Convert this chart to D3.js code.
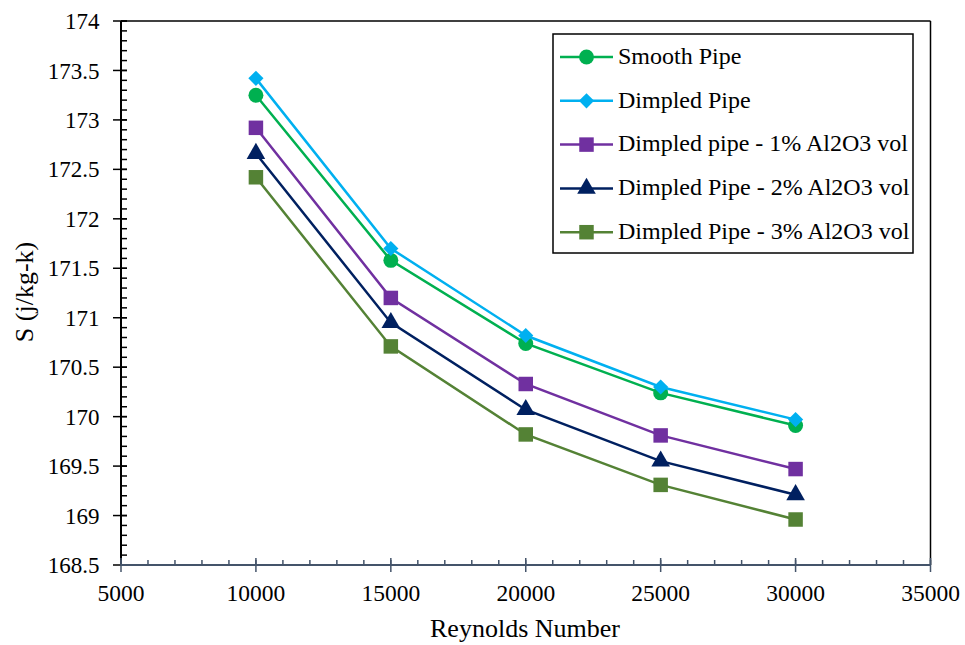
<!DOCTYPE html>
<html><head><meta charset="utf-8">
<script src="https://cdn.jsdelivr.net/npm/d3@7"></script>
<style>body{margin:0;background:#fff}svg{display:block}svg text{font-family:'Liberation Serif',Tinos,'Nimbus Roman',FreeSerif,serif !important}</style>
</head><body>
<svg id="c" width="965" height="645"></svg>
<script>
const reynolds = [10000, 15000, 20000, 25000, 30000];
const smoothPipe = [173.25, 171.58, 170.74, 170.24, 169.91];
const dimpledPipe = [173.42, 171.70, 170.82, 170.30, 169.97];
const dimpled1 = [172.92, 171.20, 170.33, 169.81, 169.47];
const dimpled2 = [172.66, 170.95, 170.07, 169.55, 169.21];
const dimpled3 = [172.42, 170.71, 169.82, 169.31, 168.96];
const seriesNames = ["Smooth Pipe", "Dimpled Pipe", "Dimpled pipe - 1% Al2O3 vol", "Dimpled Pipe - 2% Al2O3 vol", "Dimpled Pipe - 3% Al2O3 vol"];
const xTicks = [5000, 10000, 15000, 20000, 25000, 30000, 35000];
const yTicks = [168.5, 169, 169.5, 170, 170.5, 171, 171.5, 172, 172.5, 173, 173.5, 174];

const FONT = "'Liberation Serif', Tinos, 'Nimbus Roman', FreeSerif, serif";
const series = [
  {name: seriesNames[0], values: smoothPipe, color: "#00B050", sym: d3.symbolCircle, size: 175, rot: 0},
  {name: seriesNames[1], values: dimpledPipe, color: "#00B0F0", sym: d3.symbolSquare, size: 115, rot: 45},
  {name: seriesNames[2], values: dimpled1, color: "#7030A0", sym: d3.symbolSquare, size: 210, rot: 0},
  {name: seriesNames[3], values: dimpled2, color: "#002060", sym: d3.symbolTriangle, size: 150, rot: 0},
  {name: seriesNames[4], values: dimpled3, color: "#548235", sym: d3.symbolSquare, size: 210, rot: 0}
];

const svg = d3.select("#c");
const L = 121, R = 930.5, T = 21, B = 565;
const x = d3.scaleLinear().domain([5000, 35000]).range([L, R]);
const y = d3.scaleLinear().domain([168.5, 174]).range([B, T]);

svg.append("line").attr("x1", L).attr("x2", R).attr("y1", T).attr("y2", T).attr("stroke", "#000").attr("stroke-width", 1.5);
svg.append("line").attr("x1", R).attr("x2", R).attr("y1", T).attr("y2", B).attr("stroke", "#000").attr("stroke-width", 1.5);

// y axis
const yMinor = d3.range(168.5, 174.0001, 0.1);
const yg = svg.append("g");
yg.selectAll("line.mi").data(yMinor).join("line")
  .attr("x1", L).attr("x2", L + 6).attr("y1", d => y(d)).attr("y2", d => y(d))
  .attr("stroke", "#000").attr("stroke-width", 1.5);
yg.selectAll("line.ma").data(yTicks).join("line")
  .attr("x1", L - 8).attr("x2", L + 6).attr("y1", d => y(d)).attr("y2", d => y(d))
  .attr("stroke", "#000").attr("stroke-width", 1.5);
yg.append("line").attr("x1", L).attr("x2", L).attr("y1", T).attr("y2", B).attr("stroke", "#000").attr("stroke-width", 2);
yg.selectAll("text").data(yTicks).join("text")
  .attr("x", L - 21.5).attr("y", d => y(d)).attr("dy", "0.35em").attr("text-anchor", "end")
  .style("font-family", FONT, "important").attr("font-size", 23).text(d => d);

// x axis
const xMinor = d3.range(5000, 35001, 1000);
const xg = svg.append("g");
const axc = "#44546A";
xg.selectAll("line.mi").data(xMinor).join("line")
  .attr("x1", d => x(d)).attr("x2", d => x(d)).attr("y1", B).attr("y2", B - 5)
  .attr("stroke", axc).attr("stroke-width", 1.5);
xg.selectAll("line.ma").data(xTicks).join("line")
  .attr("x1", d => x(d)).attr("x2", d => x(d)).attr("y1", B - 7).attr("y2", B + 7)
  .attr("stroke", axc).attr("stroke-width", 1.5);
xg.append("line").attr("x1", L).attr("x2", R).attr("y1", B).attr("y2", B).attr("stroke", axc).attr("stroke-width", 2);
xg.selectAll("text").data(xTicks).join("text")
  .attr("x", d => x(d)).attr("y", B + 36).attr("text-anchor", "middle")
  .style("font-family", FONT, "important").attr("font-size", 23.5).text(d => d);

svg.append("text").attr("x", 525).attr("y", 637).attr("text-anchor", "middle")
  .style("font-family", FONT, "important").attr("font-size", 26).text("Reynolds Number");
svg.append("text").attr("transform", "translate(33,292) rotate(-90)").attr("text-anchor", "middle")
  .style("font-family", FONT, "important").attr("font-size", 26).text("S (j/kg-k)");

const line = d3.line().x(d => x(d[0])).y(d => y(d[1]));
series.forEach(s => {
  const pts = reynolds.map((r, i) => [r, s.values[i]]);
  svg.append("path").datum(pts).attr("d", line).attr("fill", "none").attr("stroke", s.color).attr("stroke-width", 2.5);
  svg.append("g").selectAll("path").data(pts).join("path")
    .attr("d", d3.symbol().type(s.sym).size(s.size))
    .attr("transform", d => `translate(${x(d[0])},${y(d[1])}) rotate(${s.rot})`)
    .attr("fill", s.color);
});

const lg = svg.append("g");
lg.append("rect").attr("x", 553).attr("y", 34).attr("width", 360).attr("height", 219).attr("fill", "#fff").attr("stroke", "#000").attr("stroke-width", 1.5);
series.forEach((s, i) => {
  const cy = 57 + i * 43.8;
  lg.append("line").attr("x1", 560).attr("x2", 613).attr("y1", cy).attr("y2", cy).attr("stroke", s.color).attr("stroke-width", 2.5);
  lg.append("path").attr("d", d3.symbol().type(s.sym).size(s.size)).attr("transform", `translate(586.5,${cy}) rotate(${s.rot})`).attr("fill", s.color);
  lg.append("text").attr("x", 618).attr("y", cy).attr("dy", "0.28em")
    .style("font-family", FONT, "important").attr("font-size", 24).text(s.name);
});
</script>
</body></html>
